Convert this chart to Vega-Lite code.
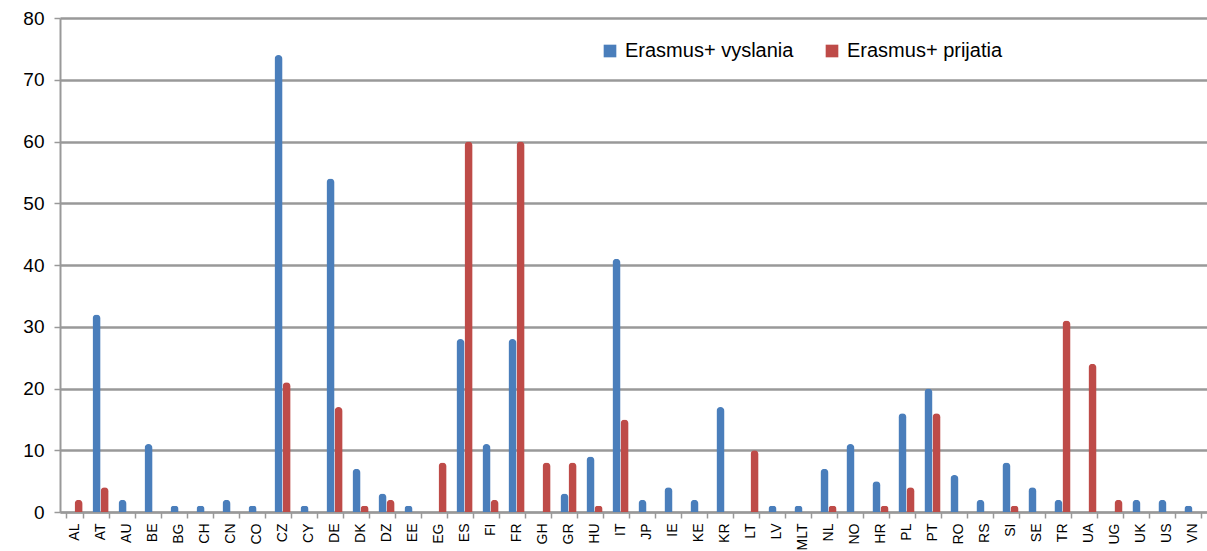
{
  "$schema": "https://vega.github.io/schema/vega-lite/v6.json",
  "autosize": "none",
  "width": 1147,
  "height": 494,
  "padding": {"left": 60, "top": 18, "right": 0, "bottom": 39},
  "background": "white",
  "config": {"view": {"stroke": null}, "font": "Liberation Sans"},
  "data": {"values": [
    {"k":"AL","s":"Erasmus+ vyslania","v":0},{"k":"AL","s":"Erasmus+ prijatia","v":2},
    {"k":"AT","s":"Erasmus+ vyslania","v":32},{"k":"AT","s":"Erasmus+ prijatia","v":4},
    {"k":"AU","s":"Erasmus+ vyslania","v":2},{"k":"AU","s":"Erasmus+ prijatia","v":0},
    {"k":"BE","s":"Erasmus+ vyslania","v":11},{"k":"BE","s":"Erasmus+ prijatia","v":0},
    {"k":"BG","s":"Erasmus+ vyslania","v":1},{"k":"BG","s":"Erasmus+ prijatia","v":0},
    {"k":"CH","s":"Erasmus+ vyslania","v":1},{"k":"CH","s":"Erasmus+ prijatia","v":0},
    {"k":"CN","s":"Erasmus+ vyslania","v":2},{"k":"CN","s":"Erasmus+ prijatia","v":0},
    {"k":"CO","s":"Erasmus+ vyslania","v":1},{"k":"CO","s":"Erasmus+ prijatia","v":0},
    {"k":"CZ","s":"Erasmus+ vyslania","v":74},{"k":"CZ","s":"Erasmus+ prijatia","v":21},
    {"k":"CY","s":"Erasmus+ vyslania","v":1},{"k":"CY","s":"Erasmus+ prijatia","v":0},
    {"k":"DE","s":"Erasmus+ vyslania","v":54},{"k":"DE","s":"Erasmus+ prijatia","v":17},
    {"k":"DK","s":"Erasmus+ vyslania","v":7},{"k":"DK","s":"Erasmus+ prijatia","v":1},
    {"k":"DZ","s":"Erasmus+ vyslania","v":3},{"k":"DZ","s":"Erasmus+ prijatia","v":2},
    {"k":"EE","s":"Erasmus+ vyslania","v":1},{"k":"EE","s":"Erasmus+ prijatia","v":0},
    {"k":"EG","s":"Erasmus+ vyslania","v":0},{"k":"EG","s":"Erasmus+ prijatia","v":8},
    {"k":"ES","s":"Erasmus+ vyslania","v":28},{"k":"ES","s":"Erasmus+ prijatia","v":60},
    {"k":"FI","s":"Erasmus+ vyslania","v":11},{"k":"FI","s":"Erasmus+ prijatia","v":2},
    {"k":"FR","s":"Erasmus+ vyslania","v":28},{"k":"FR","s":"Erasmus+ prijatia","v":60},
    {"k":"GH","s":"Erasmus+ vyslania","v":0},{"k":"GH","s":"Erasmus+ prijatia","v":8},
    {"k":"GR","s":"Erasmus+ vyslania","v":3},{"k":"GR","s":"Erasmus+ prijatia","v":8},
    {"k":"HU","s":"Erasmus+ vyslania","v":9},{"k":"HU","s":"Erasmus+ prijatia","v":1},
    {"k":"IT","s":"Erasmus+ vyslania","v":41},{"k":"IT","s":"Erasmus+ prijatia","v":15},
    {"k":"JP","s":"Erasmus+ vyslania","v":2},{"k":"JP","s":"Erasmus+ prijatia","v":0},
    {"k":"IE","s":"Erasmus+ vyslania","v":4},{"k":"IE","s":"Erasmus+ prijatia","v":0},
    {"k":"KE","s":"Erasmus+ vyslania","v":2},{"k":"KE","s":"Erasmus+ prijatia","v":0},
    {"k":"KR","s":"Erasmus+ vyslania","v":17},{"k":"KR","s":"Erasmus+ prijatia","v":0},
    {"k":"LT","s":"Erasmus+ vyslania","v":0},{"k":"LT","s":"Erasmus+ prijatia","v":10},
    {"k":"LV","s":"Erasmus+ vyslania","v":1},{"k":"LV","s":"Erasmus+ prijatia","v":0},
    {"k":"MLT","s":"Erasmus+ vyslania","v":1},{"k":"MLT","s":"Erasmus+ prijatia","v":0},
    {"k":"NL","s":"Erasmus+ vyslania","v":7},{"k":"NL","s":"Erasmus+ prijatia","v":1},
    {"k":"NO","s":"Erasmus+ vyslania","v":11},{"k":"NO","s":"Erasmus+ prijatia","v":0},
    {"k":"HR","s":"Erasmus+ vyslania","v":5},{"k":"HR","s":"Erasmus+ prijatia","v":1},
    {"k":"PL","s":"Erasmus+ vyslania","v":16},{"k":"PL","s":"Erasmus+ prijatia","v":4},
    {"k":"PT","s":"Erasmus+ vyslania","v":20},{"k":"PT","s":"Erasmus+ prijatia","v":16},
    {"k":"RO","s":"Erasmus+ vyslania","v":6},{"k":"RO","s":"Erasmus+ prijatia","v":0},
    {"k":"RS","s":"Erasmus+ vyslania","v":2},{"k":"RS","s":"Erasmus+ prijatia","v":0},
    {"k":"SI","s":"Erasmus+ vyslania","v":8},{"k":"SI","s":"Erasmus+ prijatia","v":1},
    {"k":"SE","s":"Erasmus+ vyslania","v":4},{"k":"SE","s":"Erasmus+ prijatia","v":0},
    {"k":"TR","s":"Erasmus+ vyslania","v":2},{"k":"TR","s":"Erasmus+ prijatia","v":31},
    {"k":"UA","s":"Erasmus+ vyslania","v":0},{"k":"UA","s":"Erasmus+ prijatia","v":24},
    {"k":"UG","s":"Erasmus+ vyslania","v":0},{"k":"UG","s":"Erasmus+ prijatia","v":2},
    {"k":"UK","s":"Erasmus+ vyslania","v":2},{"k":"UK","s":"Erasmus+ prijatia","v":0},
    {"k":"US","s":"Erasmus+ vyslania","v":2},{"k":"US","s":"Erasmus+ prijatia","v":0},
    {"k":"VN","s":"Erasmus+ vyslania","v":1},{"k":"VN","s":"Erasmus+ prijatia","v":0}
  ]},
  "mark": {"type": "bar", "cornerRadiusTopLeft": 4, "cornerRadiusTopRight": 4},
  "encoding": {
    "x": {"field": "k", "type": "nominal", "sort": null,
      "scale": {"paddingInner": 0.38, "paddingOuter": 0.25},
      "axis": {"title": null, "labelAngle": -90, "labelFontSize": 14, "labelColor": "#000",
        "labelPadding": 5, "domainColor": "#999", "domainWidth": 2, "tickColor": "#999", "tickSize": 6, "tickWidth": 1.5, "tickBand": "extent"}},
    "xOffset": {"field": "s", "type": "nominal", "sort": ["Erasmus+ vyslania", "Erasmus+ prijatia"], "scale": {"paddingInner": 0.0}},
    "y": {"field": "v", "type": "quantitative",
      "scale": {"domain": [0, 80]},
      "axis": {"title": null, "values": [0,10,20,30,40,50,60,70,80], "labelFontSize": 19, "labelColor": "#000",
        "labelPadding": 10, "grid": true, "gridColor": "#999", "gridWidth": 2.5,
        "domainColor": "#999", "domainWidth": 2, "tickColor": "#999", "tickSize": 6, "tickWidth": 1.5}},
    "color": {"field": "s", "type": "nominal", "sort": ["Erasmus+ vyslania", "Erasmus+ prijatia"],
      "scale": {"domain": ["Erasmus+ vyslania", "Erasmus+ prijatia"], "range": ["#4a7ebb", "#be4b48"]},
      "legend": {"title": null, "orient": "none", "legendX": 540, "legendY": 23, "direction": "horizontal",
        "symbolType": "square", "symbolSize": 160, "symbolStrokeWidth": 0, "labelFontSize": 20, "labelColor": "#000",
        "labelLimit": 400, "columnPadding": 28, "labelOffset": 5}}
  }
}
